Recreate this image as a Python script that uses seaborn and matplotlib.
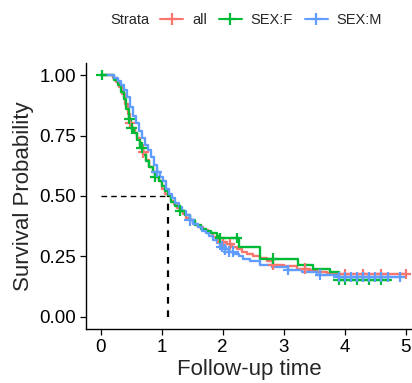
import matplotlib
matplotlib.use("Agg")
import matplotlib.pyplot as plt
from matplotlib.lines import Line2D
import seaborn as sns
import numpy as np
import pandas as pd

# Kaplan-Meier steps
all_time = [0, 0.2, 0.25, 0.3, 0.35, 0.4, 0.45, 0.48, 0.52, 0.56, 0.6, 0.65, 0.7, 0.75,
            0.8, 0.85, 0.9, 0.95, 1.0, 1.05, 1.1, 1.15, 1.2, 1.25, 1.3, 1.35, 1.4, 1.46,
            1.52, 1.6, 1.68, 1.76, 1.84, 1.9, 1.96, 2.05, 2.15, 2.23, 2.32, 2.4, 2.5,
            2.61, 2.72, 2.83, 3.0, 3.21, 3.4, 3.54, 3.7, 3.87, 5.0]
all_surv = [1.0, 0.99, 0.97, 0.95, 0.92, 0.88, 0.84, 0.80, 0.78, 0.76, 0.74, 0.71, 0.68, 0.65,
            0.62, 0.60, 0.58, 0.56, 0.53, 0.51, 0.50, 0.48, 0.465, 0.45, 0.44, 0.425, 0.41, 0.40,
            0.385, 0.37, 0.36, 0.345, 0.33, 0.32, 0.31, 0.30, 0.29, 0.28, 0.27, 0.26, 0.25,
            0.245, 0.23, 0.215, 0.21, 0.20, 0.193, 0.187, 0.182, 0.177, 0.177]
all_cens = [0.48, 0.70, 2.0, 2.12, 2.83, 3.35, 4.0, 4.3, 4.6, 5.0]

f_time = [0, 0.22, 0.28, 0.33, 0.38, 0.42, 0.46, 0.5, 0.55, 0.6, 0.65, 0.7, 0.75, 0.8,
          0.85, 0.89, 0.95, 1.0, 1.05, 1.1, 1.16, 1.22, 1.3, 1.38, 1.46, 1.55, 1.64, 1.72,
          1.8, 1.9, 1.96, 2.27, 2.61, 3.24, 3.48, 3.76, 3.9, 4.75]
f_surv = [1.0, 0.98, 0.96, 0.93, 0.90, 0.86, 0.82, 0.78, 0.76, 0.73, 0.70, 0.67, 0.645, 0.62,
          0.60, 0.58, 0.56, 0.54, 0.52, 0.50, 0.475, 0.46, 0.44, 0.42, 0.40, 0.38, 0.365, 0.355,
          0.345, 0.335, 0.326, 0.29, 0.24, 0.215, 0.20, 0.187, 0.153, 0.153]
f_cens = [0.02, 0.47, 0.51, 0.67, 0.89, 1.30, 1.96, 2.23, 2.83, 3.9, 4.0, 4.2, 4.4, 4.6]

m_time = [0, 0.22, 0.28, 0.33, 0.38, 0.43, 0.48, 0.53, 0.58, 0.63, 0.68, 0.73, 0.78, 0.83,
          0.88, 0.92, 0.97, 1.02, 1.07, 1.12, 1.17, 1.22, 1.28, 1.34, 1.4, 1.46, 1.52, 1.6,
          1.66, 1.72, 1.78, 1.84, 1.9, 1.96, 2.02, 2.1, 2.18, 2.26, 2.33, 2.45, 2.61, 2.8,
          3.07, 3.3, 3.54, 3.87, 4.9]
m_surv = [1.0, 0.99, 0.975, 0.96, 0.94, 0.91, 0.87, 0.83, 0.80, 0.77, 0.74, 0.71, 0.69, 0.66,
          0.63, 0.60, 0.58, 0.56, 0.53, 0.51, 0.49, 0.47, 0.455, 0.44, 0.42, 0.40, 0.385, 0.37,
          0.355, 0.345, 0.335, 0.32, 0.305, 0.29, 0.28, 0.27, 0.26, 0.25, 0.24, 0.23, 0.215, 0.205,
          0.194, 0.185, 0.174, 0.165, 0.165]
m_cens = [0.92, 1.46, 1.98, 2.03, 2.1, 2.17, 3.07, 3.6, 3.9, 4.0, 4.1, 4.2, 4.3, 4.4,
          4.5, 4.6, 4.7, 4.9]

strata = ["all", "SEX:F", "SEX:M"]
colors = ["#F8766D", "#00BA38", "#619CFF"]
median_time = 1.10

curves = {"all": (all_time, all_surv, all_cens),
          "SEX:F": (f_time, f_surv, f_cens),
          "SEX:M": (m_time, m_surv, m_cens)}

lines, marks = [], []
for name, (t, s, c) in curves.items():
    lines.append(pd.DataFrame({"time": t, "surv": s, "strata": name}))
    idx = np.searchsorted(t, c, side="right") - 1
    marks.append(pd.DataFrame({"time": c, "surv": np.array(s)[idx], "strata": name}))
line_df = pd.concat(lines, ignore_index=True)
mark_df = pd.concat(marks, ignore_index=True)

sns.set_style("ticks")
plt.rcParams["font.family"] = ["Liberation Sans", "DejaVu Sans"]

fig = plt.figure(figsize=(4.12, 3.83), dpi=100)
ax = fig.add_axes([86 / 412, 54 / 383, 326 / 412, 266 / 383])
pal = dict(zip(strata, colors))

sns.lineplot(data=line_df, x="time", y="surv", hue="strata", palette=pal,
             hue_order=strata, drawstyle="steps-post", estimator=None,
             sort=False, linewidth=1.7, legend=False, ax=ax)
sns.scatterplot(data=mark_df, x="time", y="surv", hue="strata", palette=pal,
                hue_order=strata, marker="+", s=60, linewidth=1.6,
                legend=False, ax=ax, zorder=3)

ax.plot([0, median_time], [0.5, 0.5], color="black", ls=(0, (4, 3)), lw=1.0)
ax.plot([median_time, median_time], [0, 0.5], color="black", ls=(0, (3, 3)), lw=1.6)

ax.set_xlim(-0.24, 5.1)
ax.set_ylim(-0.05, 1.05)
ax.set_xticks([0, 1, 2, 3, 4, 5])
ax.set_yticks([0, 0.25, 0.5, 0.75, 1.0])
ax.set_yticklabels(["0.00", "0.25", "0.50", "0.75", "1.00"])
ax.tick_params(labelsize=13.5, length=4, width=0.9, colors="black", pad=3)
for sp in ["left", "bottom"]:
    ax.spines[sp].set_linewidth(1.0)
    ax.spines[sp].set_color("black")
sns.despine(ax=ax)
ax.set_xlabel("Follow-up time", fontsize=16, labelpad=2)
ax.set_ylabel("Survival Probability", fontsize=16, labelpad=4)

handles = [Line2D([], [], color=c, lw=1.5, marker="+", markersize=9, mew=1.6)
           for c in colors]
fig.text(110 / 412, 1 - 20 / 383, "Strata", fontsize=10.5, va="center", ha="left")
fig.legend(handles, strata, ncol=3, frameon=False, fontsize=10.5,
           loc="center left", bbox_to_anchor=(160 / 412, 1 - 20 / 383),
           handlelength=1.6, handletextpad=0.6, columnspacing=0.8,
           borderaxespad=0, borderpad=0)

fig.savefig("out.png", dpi=100)
